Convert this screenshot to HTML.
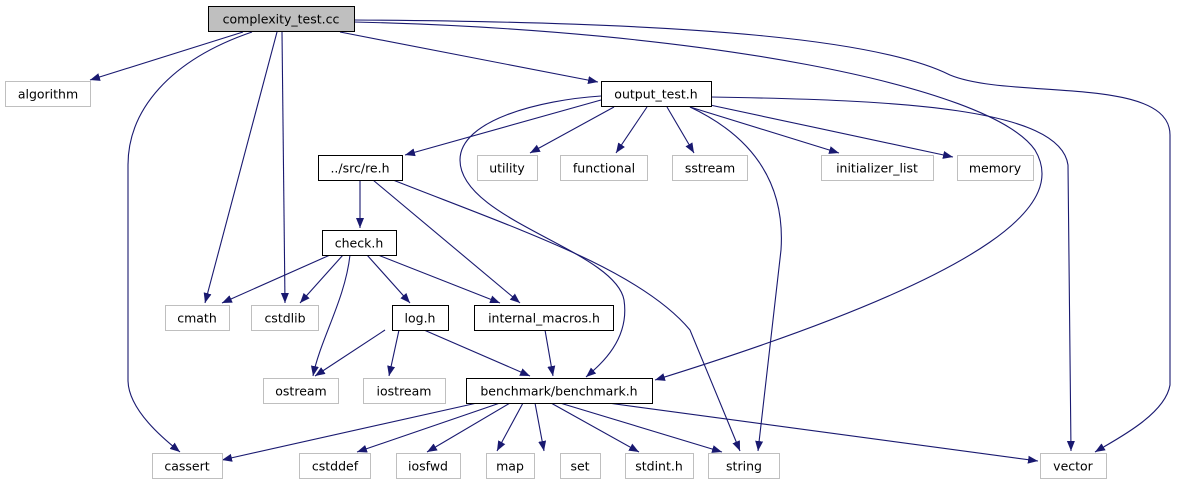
<!DOCTYPE html>
<html><head><meta charset="utf-8"><style>
html,body{margin:0;padding:0;background:#fff;}
svg{display:block;font-family:"DejaVu Sans","Liberation Sans",sans-serif;}
</style></head><body>
<svg width="1179" height="485" viewBox="0 0 1179 485" xmlns="http://www.w3.org/2000/svg">
<defs>
<marker id="a" viewBox="0 0 10 10" refX="10" refY="5" markerWidth="10" markerHeight="10" markerUnits="userSpaceOnUse" orient="auto">
<path d="M0,1 L10,5 L0,9 z" fill="#191970"/></marker>
</defs>
<g fill="none" stroke="#191970" stroke-width="1.1" marker-end="url(#a)">
<path d="M243,32 L90,80"/>
<path d="M252,32 C170,60 128,110 128,165 L128,380 C128,410 165,440 180,452"/>
<path d="M277,32 L205,303"/>
<path d="M282,32 L285,303"/>
<path d="M340,32 L598,82"/>
<path d="M354,20 C700,22 880,40 950,75 C1010,100 1170,75 1170,135 L1170,385 C1165,415 1115,440 1095,452"/>
<path d="M354,22 C700,30 990,85 1035,150 C1065,200 1010,270 655,380"/>
<path d="M601,100 L405,155"/>
<path d="M614,107 L530,153"/>
<path d="M647,107 L616,153"/>
<path d="M667,107 L694,153"/>
<path d="M690,107 L839,153"/>
<path d="M710,105 L953,157"/>
<path d="M711,97 C900,100 1060,108 1068,165 L1071,451"/>
<path d="M690,107 C760,140 785,190 781,250 L758,451"/>
<path d="M601,96 C540,100 460,120 460,160 C460,220 615,250 624,300 C630,340 600,365 586,377"/>
<path d="M360,180 L360,228"/>
<path d="M373,180 L520,303"/>
<path d="M393,180 C520,230 640,270 690,330 L740,451"/>
<path d="M330,255 L222,303"/>
<path d="M343,255 L300,303"/>
<path d="M350,255 C345,300 320,340 313,376"/>
<path d="M367,255 L410,303"/>
<path d="M378,255 L500,303"/>
<path d="M385,330 L315,376"/>
<path d="M399,330 L389,376"/>
<path d="M424,330 L530,376"/>
<path d="M545,330 L553,376"/>
<path d="M477,403 L222,460"/>
<path d="M500,403 L357,452"/>
<path d="M510,403 L427,452"/>
<path d="M523,403 L497,451"/>
<path d="M535,403 L544,451"/>
<path d="M551,403 L639,452"/>
<path d="M560,403 L722,452"/>
<path d="M608,403 L1038,461"/>
</g>
<g font-size="12.5" text-anchor="middle" fill="#000">
<rect x="208.5" y="6.5" width="146" height="25" fill="#bfbfbf" stroke="#000"/><text x="281" y="23.5">complexity_test.cc</text>
<rect x="5.5" y="81.5" width="85" height="25" fill="#fff" stroke="#bfbfbf"/><text x="48" y="98.5">algorithm</text>
<rect x="601.5" y="81.5" width="110" height="25" fill="#fff" stroke="#000"/><text x="656" y="98.5">output_test.h</text>
<rect x="318.5" y="155.5" width="84" height="25" fill="#fff" stroke="#000"/><text x="360" y="172.5">../src/re.h</text>
<rect x="477.5" y="155.5" width="60" height="25" fill="#fff" stroke="#bfbfbf"/><text x="507" y="172.5">utility</text>
<rect x="560.5" y="155.5" width="87" height="25" fill="#fff" stroke="#bfbfbf"/><text x="604" y="172.5">functional</text>
<rect x="672.5" y="155.5" width="75" height="25" fill="#fff" stroke="#bfbfbf"/><text x="710" y="172.5">sstream</text>
<rect x="821.5" y="155.5" width="112" height="25" fill="#fff" stroke="#bfbfbf"/><text x="877" y="172.5">initializer_list</text>
<rect x="957.5" y="155.5" width="76" height="25" fill="#fff" stroke="#bfbfbf"/><text x="995" y="172.5">memory</text>
<rect x="322.5" y="230.5" width="74" height="25" fill="#fff" stroke="#000"/><text x="359" y="247.5">check.h</text>
<rect x="165.5" y="305.5" width="64" height="25" fill="#fff" stroke="#bfbfbf"/><text x="197" y="322.5">cmath</text>
<rect x="251.5" y="305.5" width="67" height="25" fill="#fff" stroke="#bfbfbf"/><text x="285" y="322.5">cstdlib</text>
<rect x="392.5" y="305.5" width="56" height="25" fill="#fff" stroke="#000"/><text x="420" y="322.5">log.h</text>
<rect x="474.5" y="305.5" width="139" height="25" fill="#fff" stroke="#000"/><text x="544" y="322.5">internal_macros.h</text>
<rect x="263.5" y="378.5" width="75" height="25" fill="#fff" stroke="#bfbfbf"/><text x="301" y="395.5">ostream</text>
<rect x="363.5" y="378.5" width="82" height="25" fill="#fff" stroke="#bfbfbf"/><text x="404" y="395.5">iostream</text>
<rect x="466.5" y="378.5" width="186" height="25" fill="#fff" stroke="#000"/><text x="559" y="395.5">benchmark/benchmark.h</text>
<rect x="152.5" y="453.5" width="70" height="25" fill="#fff" stroke="#bfbfbf"/><text x="187" y="470.5">cassert</text>
<rect x="299.5" y="453.5" width="71" height="25" fill="#fff" stroke="#bfbfbf"/><text x="335" y="470.5">cstddef</text>
<rect x="396.5" y="453.5" width="64" height="25" fill="#fff" stroke="#bfbfbf"/><text x="428" y="470.5">iosfwd</text>
<rect x="486.5" y="453.5" width="48" height="25" fill="#fff" stroke="#bfbfbf"/><text x="510" y="470.5">map</text>
<rect x="560.5" y="453.5" width="40" height="25" fill="#fff" stroke="#bfbfbf"/><text x="580" y="470.5">set</text>
<rect x="625.5" y="453.5" width="68" height="25" fill="#fff" stroke="#bfbfbf"/><text x="659" y="470.5">stdint.h</text>
<rect x="708.5" y="453.5" width="71" height="25" fill="#fff" stroke="#bfbfbf"/><text x="744" y="470.5">string</text>
<rect x="1040.5" y="453.5" width="66" height="25" fill="#fff" stroke="#bfbfbf"/><text x="1073" y="470.5">vector</text>
</g>
</svg>
</body></html>
